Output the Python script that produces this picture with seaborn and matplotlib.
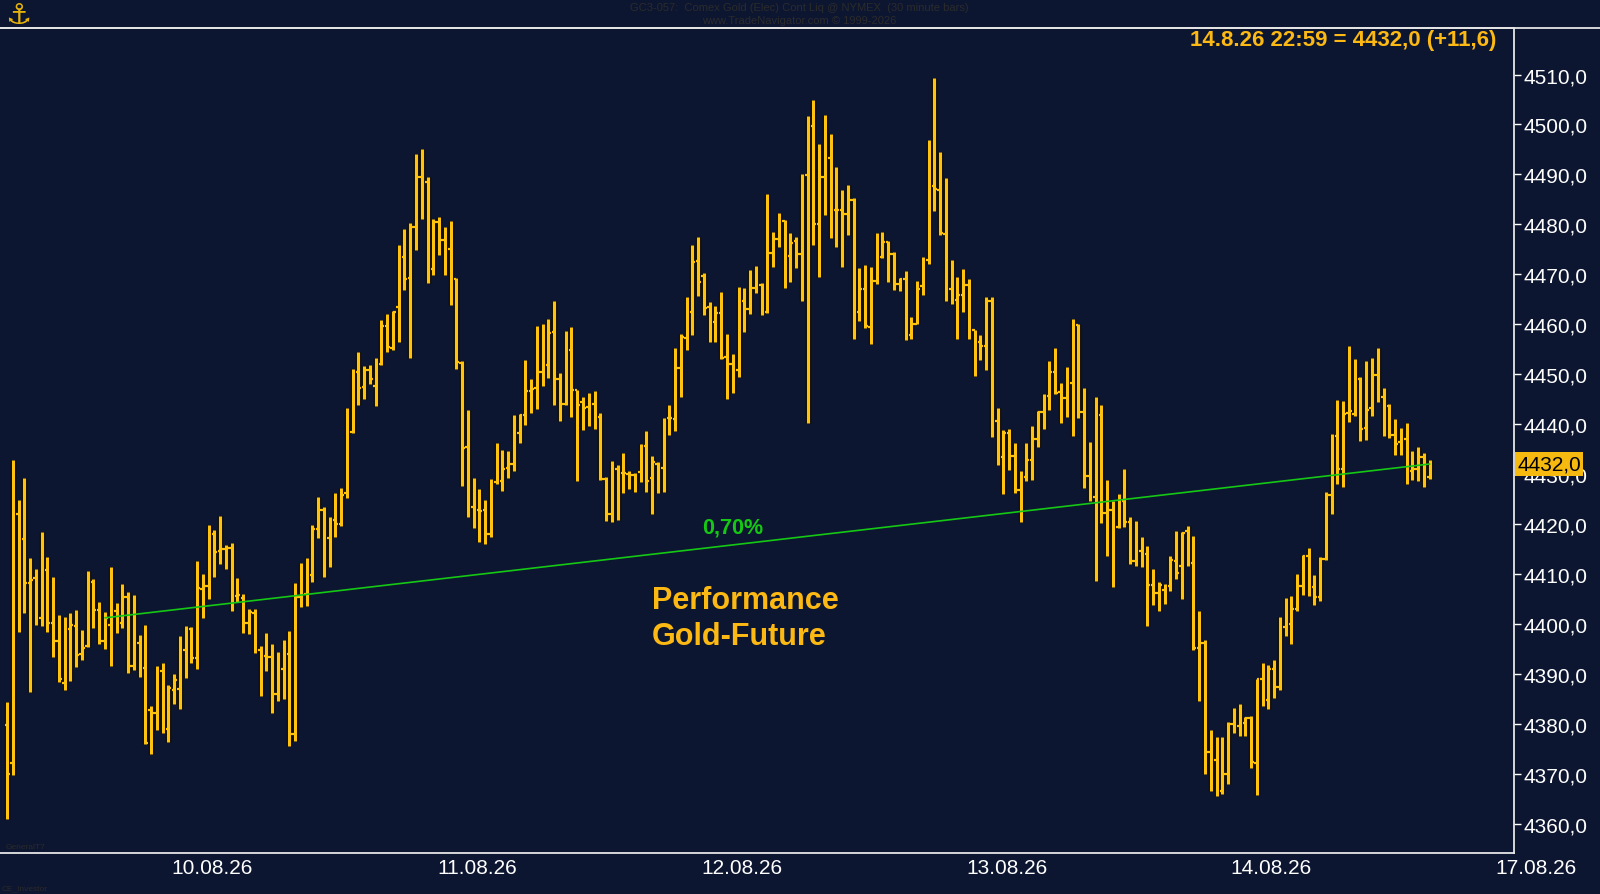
import numpy as np
import pandas as pd
import matplotlib
matplotlib.use("Agg")
import matplotlib.pyplot as plt
import matplotlib.transforms as mtransforms
from matplotlib.lines import Line2D
import seaborn as sns

# ---------------- data (30-minute OHLC bars, Comex Gold) ----------------
opens = [
    4379.8, 4372.1, 4422.0, 4416.9, 4408.2, 4409.2, 4401.2, 4410.7, 4400.2, 4396.5,
    4388.2, 4398.9, 4399.6, 4393.9, 4395.6, 4408.4, 4402.8, 4396.5, 4399.7, 4402.6,
    4400.2, 4405.4, 4391.6, 4396.2, 4391.1, 4382.7, 4382.2, 4390.6, 4378.9, 4386.8,
    4387.0, 4394.8, 4399.0, 4393.1, 4406.9, 4407.6, 4418.0, 4414.6, 4414.9, 4415.2,
    4405.6, 4405.2, 4400.2, 4402.2, 4394.8, 4393.6, 4393.4, 4386.0, 4390.9, 4394.0,
    4378.0, 4405.4, 4406.0, 4409.8, 4419.0, 4422.8, 4417.2, 4420.8, 4420.0, 4426.1,
    4438.5, 4450.4, 4447.5, 4450.9, 4447.6, 4452.1, 4459.6, 4455.3, 4463.5, 4473.5,
    4469.3, 4479.5, 4489.4, 4488.5, 4471.0, 4480.5, 4476.8, 4475.0, 4469.0, 4452.3,
    4435.5, 4423.4, 4422.8, 4422.8, 4418.0, 4428.3, 4428.6, 4431.2, 4432.0, 4438.3,
    4441.9, 4446.6, 4447.2, 4450.5, 4451.8, 4458.4, 4449.1, 4444.1, 4454.8, 4446.8,
    4444.5, 4443.4, 4444.1, 4441.4, 4428.9, 4422.0, 4431.0, 4430.3, 4430.0, 4429.8,
    4430.5, 4435.6, 4429.3, 4432.1, 4431.2, 4441.2, 4441.1, 4451.2, 4457.3, 4462.5,
    4472.7, 4469.7, 4463.5, 4460.5, 4462.2, 4453.5, 4452.0, 4450.8, 4464.6, 4463.1,
    4467.3, 4467.8, 4462.5, 4474.2, 4477.1, 4480.7, 4473.7, 4476.7, 4474.0, 4489.9,
    4499.7, 4480.1, 4489.4, 4493.3, 4482.8, 4482.8, 4482.1, 4484.9, 4462.5, 4467.0,
    4459.4, 4468.6, 4473.4, 4476.5, 4474.1, 4468.1, 4469.1, 4457.8, 4460.1, 4467.6,
    4472.9, 4487.7, 4486.9, 4478.1, 4467.1, 4464.8, 4465.9, 4467.8, 4458.8, 4456.4,
    4455.6, 4464.6, 4440.6, 4433.5, 4438.3, 4433.7, 4426.7, 4429.4, 4432.8, 4437.0,
    4442.5, 4445.6, 4450.5, 4446.4, 4445.3, 4448.2, 4459.8, 4442.5, 4429.6, 4425.4,
    4441.8, 4422.1, 4422.8, 4419.4, 4424.5, 4420.4, 4412.6, 4414.5, 4413.9, 4407.8,
    4406.2, 4406.8, 4407.6, 4412.5, 4411.6, 4418.6, 4412.2, 4395.2, 4396.1, 4374.4,
    4372.7, 4366.6, 4370.0, 4380.0, 4379.5, 4380.2, 4381.1, 4372.1, 4389.0, 4384.7,
    4390.9, 4387.4, 4399.4, 4400.0, 4403.0, 4407.5, 4413.6, 4407.3, 4405.4, 4412.9,
    4425.7, 4437.6, 4431.0, 4442.3, 4442.1, 4449.0, 4439.3, 4443.2, 4449.8, 4445.4,
    4443.6, 4437.8, 4436.4, 4437.1, 4430.6, 4431.0, 4433.5, 4429.5,
]
highs = [
    4384.3, 4432.8, 4424.8, 4429.2, 4413.1, 4411.0, 4418.3, 4413.4, 4409.3, 4401.8,
    4401.4, 4402.2, 4402.8, 4398.8, 4410.5, 4408.9, 4404.4, 4402.4, 4411.4, 4404.2,
    4407.9, 4406.3, 4405.7, 4397.7, 4399.7, 4383.6, 4391.6, 4392.1, 4387.7, 4389.9,
    4397.5, 4399.6, 4399.4, 4412.5, 4409.9, 4419.7, 4418.8, 4421.6, 4415.7, 4416.1,
    4409.1, 4405.9, 4403.0, 4403.0, 4395.5, 4398.2, 4396.0, 4394.3, 4396.8, 4398.5,
    4408.2, 4412.1, 4413.2, 4419.8, 4425.4, 4423.3, 4421.3, 4426.1, 4427.2, 4443.2,
    4451.1, 4454.4, 4451.7, 4451.9, 4453.2, 4460.8, 4462.0, 4462.7, 4475.8, 4479.0,
    4480.2, 4494.0, 4495.1, 4489.4, 4481.0, 4481.5, 4479.5, 4480.6, 4469.2, 4452.6,
    4442.9, 4429.1, 4426.9, 4424.7, 4428.9, 4436.2, 4434.9, 4434.6, 4441.9, 4442.1,
    4452.8, 4449.0, 4459.7, 4460.0, 4461.0, 4464.6, 4450.3, 4458.6, 4459.5, 4446.9,
    4445.4, 4446.2, 4446.7, 4442.3, 4429.4, 4432.6, 4431.9, 4434.3, 4430.7, 4430.2,
    4436.0, 4438.6, 4433.7, 4432.4, 4441.3, 4443.8, 4455.2, 4458.1, 4465.4, 4475.8,
    4477.4, 4470.3, 4464.4, 4463.6, 4466.5, 4458.0, 4454.0, 4467.5, 4467.2, 4470.9,
    4471.7, 4468.3, 4486.0, 4478.4, 4482.2, 4480.9, 4478.2, 4477.4, 4490.0, 4501.6,
    4504.9, 4496.0, 4501.9, 4498.1, 4491.5, 4486.8, 4487.9, 4485.3, 4471.2, 4471.9,
    4471.5, 4478.3, 4478.4, 4476.6, 4474.4, 4469.2, 4470.6, 4461.4, 4468.6, 4473.4,
    4496.9, 4509.4, 4494.4, 4489.2, 4472.9, 4469.4, 4471.0, 4469.1, 4458.9, 4457.8,
    4465.4, 4465.4, 4443.2, 4438.9, 4439.1, 4436.2, 4430.6, 4436.2, 4439.6, 4442.7,
    4446.0, 4452.6, 4455.3, 4448.2, 4451.4, 4461.1, 4460.1, 4447.3, 4436.4, 4445.4,
    4443.8, 4428.8, 4424.6, 4425.9, 4431.1, 4421.4, 4420.6, 4417.4, 4415.6, 4410.9,
    4408.4, 4407.9, 4413.5, 4418.6, 4418.4, 4419.5, 4417.6, 4402.5, 4396.8, 4378.7,
    4377.4, 4377.4, 4380.4, 4383.2, 4384.0, 4381.3, 4381.5, 4389.0, 4392.1, 4391.8,
    4392.8, 4401.3, 4405.1, 4405.6, 4410.0, 4413.8, 4415.2, 4409.7, 4413.4, 4426.3,
    4438.1, 4444.8, 4444.6, 4455.6, 4453.1, 4449.5, 4452.7, 4453.3, 4455.3, 4447.2,
    4444.0, 4441.0, 4439.3, 4440.3, 4434.7, 4435.5, 4434.2, 4432.8,
]
lows = [
    4361.0, 4369.7, 4398.4, 4402.1, 4386.3, 4399.8, 4399.5, 4398.4, 4393.4, 4388.3,
    4386.8, 4388.5, 4391.3, 4392.7, 4395.3, 4399.2, 4396.0, 4394.9, 4391.5, 4398.2,
    4399.2, 4390.2, 4390.7, 4389.3, 4375.9, 4374.0, 4378.8, 4378.1, 4376.4, 4383.9,
    4382.9, 4389.2, 4392.1, 4390.9, 4401.1, 4405.0, 4409.3, 4412.0, 4411.0, 4402.6,
    4404.4, 4398.1, 4397.9, 4394.1, 4385.6, 4390.6, 4382.2, 4384.5, 4385.0, 4375.5,
    4376.5, 4403.4, 4403.6, 4408.3, 4417.2, 4409.4, 4411.3, 4417.4, 4419.5, 4425.1,
    4438.2, 4443.8, 4445.1, 4448.1, 4443.6, 4451.9, 4454.4, 4454.9, 4456.4, 4466.8,
    4453.2, 4474.8, 4481.1, 4468.3, 4469.9, 4473.8, 4469.9, 4463.8, 4451.1, 4427.6,
    4421.4, 4419.1, 4416.3, 4416.0, 4417.4, 4428.0, 4426.6, 4429.3, 4430.6, 4436.2,
    4439.8, 4442.2, 4443.0, 4447.7, 4449.2, 4443.8, 4440.7, 4443.8, 4441.5, 4428.6,
    4438.8, 4439.6, 4439.0, 4428.7, 4420.5, 4420.3, 4420.8, 4426.1, 4426.9, 4426.4,
    4428.3, 4426.4, 4421.9, 4426.1, 4426.4, 4437.8, 4438.7, 4445.5, 4454.9, 4457.9,
    4465.7, 4461.8, 4456.5, 4456.4, 4453.0, 4445.0, 4446.2, 4449.5, 4458.4, 4462.0,
    4466.3, 4461.9, 4462.2, 4471.4, 4475.5, 4467.2, 4468.5, 4471.2, 4464.7, 4440.3,
    4475.8, 4469.4, 4481.9, 4477.2, 4475.5, 4471.5, 4477.9, 4457.1, 4460.6, 4459.2,
    4456.1, 4468.0, 4473.2, 4468.5, 4466.9, 4466.7, 4456.8, 4457.1, 4460.0, 4465.9,
    4472.1, 4482.7, 4477.9, 4464.7, 4464.1, 4457.1, 4462.5, 4457.1, 4449.6, 4452.9,
    4450.8, 4437.4, 4431.8, 4425.9, 4430.8, 4426.1, 4420.4, 4428.5, 4428.7, 4435.4,
    4439.1, 4442.9, 4446.0, 4440.2, 4441.5, 4437.6, 4441.2, 4427.2, 4424.5, 4408.6,
    4420.1, 4413.6, 4407.3, 4419.1, 4419.3, 4412.0, 4411.6, 4411.4, 4399.6, 4403.7,
    4402.6, 4403.9, 4406.5, 4409.0, 4404.9, 4411.6, 4394.7, 4384.5, 4370.0, 4366.6,
    4365.6, 4366.0, 4368.0, 4378.2, 4377.5, 4377.5, 4371.1, 4365.7, 4383.6, 4383.0,
    4385.2, 4386.7, 4397.6, 4396.0, 4402.5, 4405.8, 4405.6, 4403.8, 4404.5, 4412.8,
    4422.0, 4428.0, 4427.3, 4440.4, 4441.7, 4436.7, 4436.9, 4441.6, 4444.4, 4437.6,
    4437.2, 4433.8, 4433.8, 4427.9, 4428.7, 4428.5, 4427.4, 4429.0,
]
closes = [
    4369.9, 4422.1, 4416.9, 4408.1, 4408.8, 4401.2, 4410.7, 4400.1, 4396.5, 4388.9,
    4398.6, 4399.7, 4393.8, 4395.1, 4408.3, 4402.8, 4396.5, 4401.2, 4402.6, 4400.1,
    4405.4, 4391.6, 4396.3, 4390.7, 4376.2, 4382.2, 4390.6, 4379.1, 4387.1, 4388.7,
    4394.5, 4399.0, 4393.1, 4407.1, 4407.6, 4418.0, 4414.4, 4414.9, 4415.2, 4405.6,
    4405.7, 4400.1, 4402.3, 4394.8, 4393.6, 4393.4, 4386.0, 4390.9, 4394.0, 4378.0,
    4405.4, 4406.0, 4409.8, 4418.9, 4422.8, 4417.2, 4421.0, 4420.0, 4425.7, 4438.5,
    4450.4, 4447.3, 4450.9, 4449.1, 4451.7, 4459.6, 4455.5, 4462.5, 4473.6, 4469.0,
    4479.5, 4489.4, 4488.8, 4471.0, 4480.5, 4476.8, 4475.4, 4469.0, 4452.5, 4435.3,
    4423.5, 4425.7, 4422.5, 4418.0, 4428.3, 4428.8, 4431.0, 4432.0, 4438.3, 4441.9,
    4446.6, 4447.1, 4450.5, 4451.8, 4458.2, 4449.1, 4444.1, 4454.8, 4446.8, 4443.9,
    4443.2, 4444.1, 4441.6, 4428.9, 4422.0, 4431.0, 4430.3, 4430.3, 4429.8, 4428.3,
    4435.6, 4428.5, 4432.4, 4431.2, 4440.9, 4441.2, 4451.2, 4457.4, 4462.7, 4472.4,
    4468.4, 4463.2, 4460.2, 4462.2, 4453.3, 4452.0, 4450.8, 4464.6, 4463.1, 4467.3,
    4467.8, 4462.4, 4474.2, 4477.0, 4480.7, 4473.4, 4476.3, 4474.0, 4489.6, 4500.0,
    4480.1, 4489.4, 4493.3, 4482.8, 4482.8, 4482.1, 4484.9, 4462.5, 4467.0, 4459.7,
    4468.6, 4473.4, 4476.5, 4474.1, 4468.1, 4469.1, 4457.8, 4460.1, 4467.1, 4472.9,
    4487.7, 4487.1, 4478.2, 4467.1, 4465.1, 4465.9, 4467.9, 4458.9, 4456.4, 4455.6,
    4464.6, 4440.6, 4433.5, 4438.3, 4433.7, 4426.7, 4429.4, 4432.8, 4437.0, 4442.5,
    4445.6, 4450.5, 4446.3, 4445.3, 4448.3, 4459.8, 4442.5, 4429.6, 4425.4, 4441.5,
    4422.1, 4422.8, 4419.4, 4424.5, 4420.4, 4412.6, 4414.5, 4413.7, 4407.8, 4406.2,
    4407.7, 4407.6, 4412.7, 4410.2, 4418.2, 4412.2, 4395.2, 4396.1, 4374.4, 4372.7,
    4366.6, 4370.0, 4380.0, 4378.5, 4380.2, 4381.1, 4372.4, 4388.9, 4385.0, 4390.9,
    4387.4, 4399.4, 4400.0, 4403.0, 4407.5, 4413.6, 4407.3, 4405.4, 4412.9, 4425.7,
    4436.9, 4431.0, 4442.1, 4442.7, 4448.9, 4439.1, 4442.9, 4449.8, 4445.1, 4443.6,
    4437.8, 4436.1, 4437.1, 4430.6, 4431.0, 4433.5, 4429.5, 4432.0,
]
date_labels = ["10.08.26", "11.08.26", "12.08.26", "13.08.26", "14.08.26", "17.08.26"]
price_ticks = [4360, 4370, 4380, 4390, 4400, 4410, 4420, 4430, 4440, 4450,
               4460, 4470, 4480, 4490, 4500, 4510]
perf_start_bar = 17          # bar where the performance line starts
perf_label = "0,70%"
last_price_text = "14.8.26 22:59 = 4432,0 (+11,6)"
last_price = 4432.0
title_line1 = "GC3-057:  Comex Gold (Elec) Cont Liq @ NYMEX  (30 minute bars)"
title_line2 = "www.TradeNavigator.com © 1999-2026"

df = pd.DataFrame({"open": opens, "high": highs, "low": lows, "close": closes})
df["bar"] = np.arange(len(df))

# ---------------- style ----------------
BG = "#0d1631"
GOLD = "#FFC20E"
GREEN = "#14c814"
TXT_GOLD = "#FDB913"
sns.set_theme(style="dark")
plt.rcParams["font.family"] = ["Liberation Sans", "DejaVu Sans"]
plt.rcParams["axes.facecolor"] = BG
plt.rcParams["figure.facecolor"] = BG

W, H = 1600, 895
fig = plt.figure(figsize=(W / 100, H / 100), dpi=100)
fig.patch.set_facecolor(BG)

# plot area in pixels
AX_L, AX_R, AX_T, AX_B = 0, 1514, 28.6, 854
ax = fig.add_axes([AX_L / W, 1 - AX_B / H, (AX_R - AX_L) / W, (AX_B - AX_T) / H])
ax.set_facecolor(BG)

# OHLC bars: dark outline then gold
x = df["bar"].to_numpy()
tick_w = 0.45
ax.vlines(x, df["low"], df["high"], colors="#000000", linewidth=3.8, zorder=2)
ax.vlines(x, df["low"], df["high"], colors=GOLD, linewidth=2.3, zorder=3)
ax.hlines(df["open"], x - tick_w, x, colors=GOLD, linewidth=1.6, zorder=3)
ax.hlines(df["close"], x, x + tick_w, colors=GOLD, linewidth=1.6, zorder=3)

# performance line (seaborn)
last_bar = len(df) - 1
perf = pd.DataFrame({"bar": [perf_start_bar, last_bar],
                     "price": [closes[perf_start_bar], closes[last_bar]]})
sns.lineplot(data=perf, x="bar", y="price", ax=ax, color=GREEN, linewidth=1.2,
             zorder=4, legend=False)

# horizontal layout: first bar at px 7.1, last bar at px 1429.6
first_px, last_px = 7.1, 1429.6
px_per_bar = (last_px - first_px) / last_bar
day_px = [212.2, 477.6, 741.8, 1007.1, 1271.4, 1535.7]
day_pos = [(p - first_px) / px_per_bar for p in day_px]
xlim = ((AX_L - first_px) / px_per_bar, (AX_R - first_px) / px_per_bar)

inside = [p for p in day_pos if xlim[0] <= p <= xlim[1]]
ax.set_xticks(inside)
ax.set_xticklabels([])
ax.set_xlim(*xlim)
ax.set_ylim(4354.1, 4519.4)

# date labels (last one sits beyond the plot area, as in the original)
xtrans = mtransforms.blended_transform_factory(ax.transData, fig.transFigure)
for p, lab in zip(day_pos, date_labels):
    ax.text(p, 1 - 869 / H, lab, transform=xtrans, ha="center", va="center",
            fontsize=15, color="white", clip_on=False)

ax.yaxis.tick_right()
ax.set_yticks(price_ticks)
ax.set_yticklabels([f"{v:.1f}".replace(".", ",") for v in price_ticks])
ax.tick_params(axis="y", colors="white", labelsize=15, length=5, width=1,
               pad=2, direction="out", labelcolor="white")
ax.tick_params(axis="x", colors="white", length=3, width=1, direction="out")
ax.set_xlabel("")
ax.set_ylabel("")
ax.grid(False)
for side in ["top", "right", "bottom"]:
    ax.spines[side].set_visible(True)
    ax.spines[side].set_color("#e6e6e6")
    ax.spines[side].set_linewidth(1.3)
ax.spines["left"].set_visible(False)

# full-width top rule
fig.add_artist(Line2D([0, 1], [1 - AX_T / H, 1 - AX_T / H], transform=fig.transFigure,
                      color="#e6e6e6", linewidth=1.3))

# last price box on the right axis
trans = mtransforms.blended_transform_factory(ax.transAxes, ax.transData)
ax.text(1.002, last_price, f"{last_price:.1f}".replace(".", ","), transform=trans,
        ha="left", va="center", fontsize=15, color="black", zorder=20,
        clip_on=False,
        bbox=dict(boxstyle="square,pad=0.12", fc="#F6B90F", ec="none"))

# annotations
fig.text(732.7 / W, 1 - 527.6 / H, perf_label, color=GREEN, fontsize=15.5,
         fontweight="bold", ha="center", va="center")
fig.text(652 / W, 1 - 601 / H, "Performance", color=TXT_GOLD, fontsize=22,
         fontweight="bold", ha="left", va="center")
fig.text(652 / W, 1 - 636.7 / H, "Gold-Future", color=TXT_GOLD, fontsize=22,
         fontweight="bold", ha="left", va="center")
fig.text(1496 / W, 1 - 40.8 / H, last_price_text, color=TXT_GOLD, fontsize=16,
         fontweight="bold", ha="right", va="center")

# header
fig.text(799 / W, 1 - 8.2 / H, title_line1, color="#2b2b2b", fontsize=8,
         ha="center", va="center")
fig.text(799 / W, 1 - 21.4 / H, title_line2, color="#2b2b2b", fontsize=8,
         ha="center", va="center")
fig.text(18.4 / W, 1 - 15.5 / H, "\u2693", color="#E8B40C", fontsize=21,
         ha="center", va="center", family=["DejaVu Sans"])
fig.text(6 / W, 1 - 848 / H, "GeneralT7", color="#2a2a2a", fontsize=6,
         ha="left", va="center")
fig.text(2 / W, 1 - 889 / H, "CE_Investor", color="#2a2a2a", fontsize=6,
         ha="left", va="center")

fig.savefig("out.png", dpi=100, facecolor=BG)
